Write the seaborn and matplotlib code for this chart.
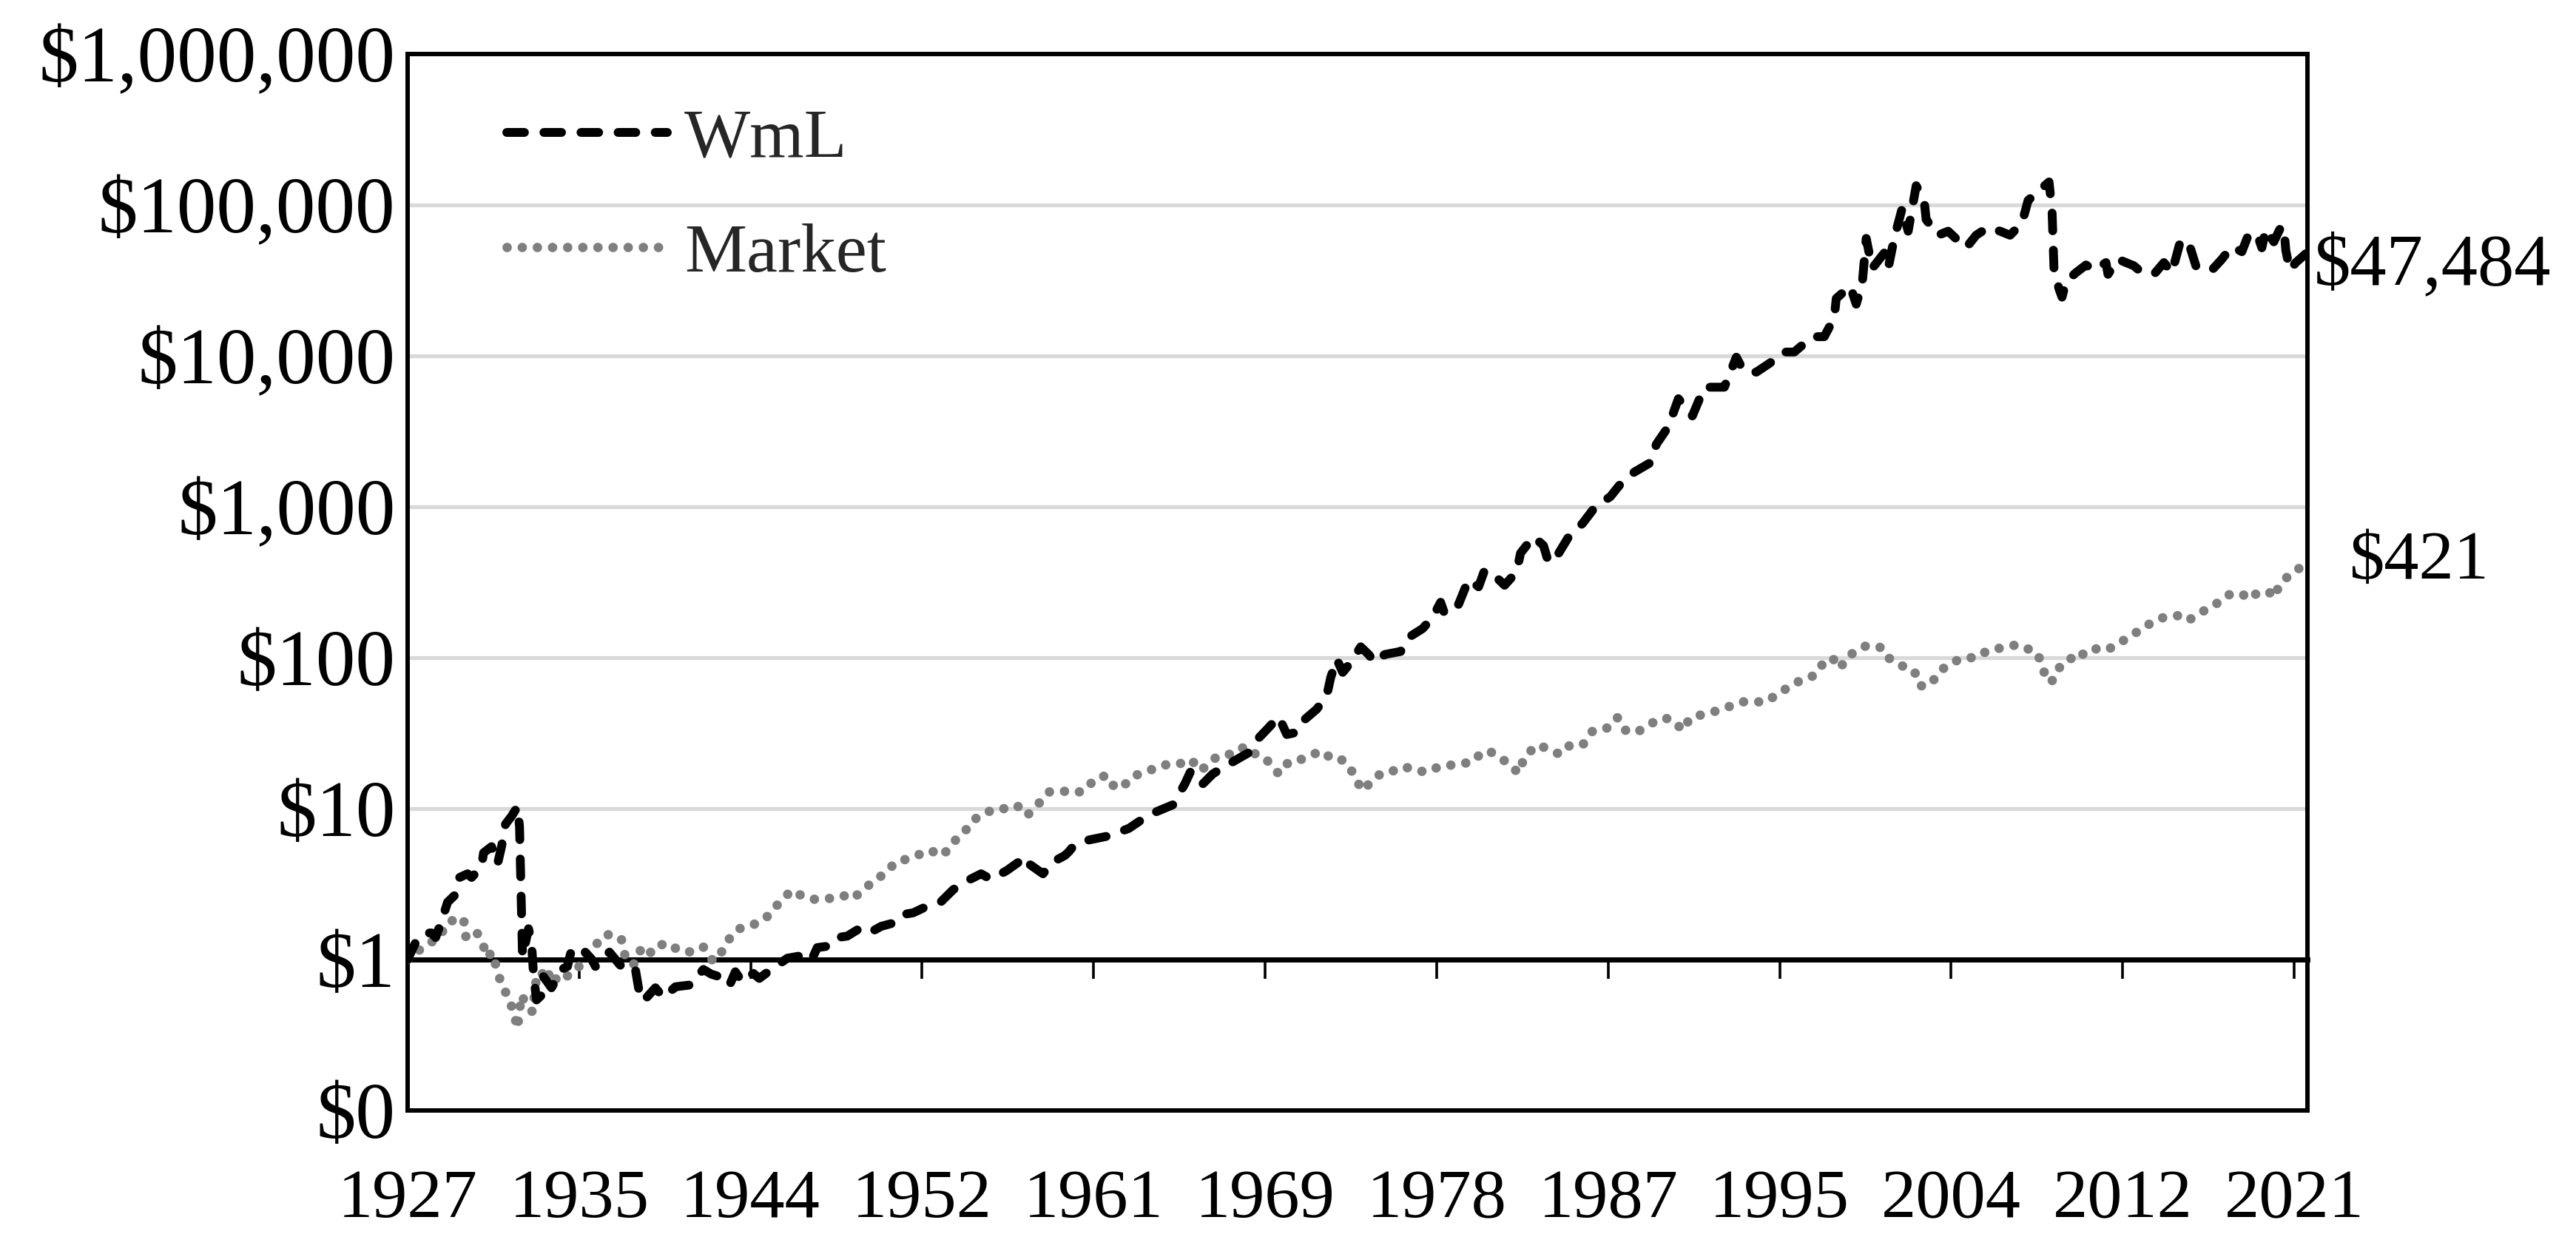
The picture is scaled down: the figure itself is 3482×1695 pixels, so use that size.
import matplotlib
matplotlib.use("Agg")
import matplotlib.pyplot as plt
import matplotlib.transforms as mtransforms
from matplotlib.ticker import FixedLocator, FixedFormatter, NullLocator
import pandas as pd
import seaborn as sns

# ---------------- data ----------------
wml_year = [1927.0, 1927.4, 1927.8, 1928.2, 1928.4, 1928.7, 1929.0, 1929.4, 1929.6, 1930.0,
            1930.2, 1930.7, 1930.8, 1931.2, 1931.5, 1931.7, 1931.9, 1932.2, 1932.5, 1932.6,
            1932.75, 1933.05, 1933.2, 1933.3, 1933.45, 1933.7, 1933.8, 1934.2, 1934.7, 1935.0,
            1935.2, 1935.7, 1936.2, 1936.4, 1936.8, 1937.1, 1937.6, 1938.0, 1938.4, 1938.6,
            1938.8, 1939.4, 1939.8, 1940.4, 1941.2, 1941.5, 1941.8, 1942.2, 1942.6, 1943.1,
            1943.4, 1943.75, 1944.3, 1944.6, 1945.2, 1946.0, 1946.7, 1947.2, 1947.5, 1948.1,
            1948.5, 1949.0, 1949.6, 1950.1, 1950.7, 1951.2, 1951.6, 1952.3, 1953.1, 1953.7,
            1954.3, 1954.75, 1955.7, 1956.2, 1957.0, 1957.96, 1958.1, 1958.8, 1959.25, 1959.9,
            1960.1, 1960.4, 1961.1, 1962.1, 1963.1, 1964.1, 1965.3, 1965.9, 1966.2, 1966.8,
            1967.3, 1967.9, 1968.4, 1969.1, 1969.5, 1970.0, 1970.6, 1971.0, 1971.5, 1971.9,
            1972.5, 1973.0, 1973.2, 1973.5, 1973.8, 1974.2, 1974.7, 1975.1, 1975.4, 1975.9,
            1976.7, 1977.05, 1977.8, 1978.3, 1978.7, 1978.9, 1979.6, 1980.1, 1980.6, 1980.9,
            1981.5, 1981.9, 1982.5, 1982.7, 1983.35, 1983.85, 1984.1, 1984.6, 1985.1, 1985.8,
            1986.4, 1987.2, 1987.8, 1988.4, 1989.2, 1989.5, 1990.1, 1990.6, 1991.3, 1991.9,
            1992.9, 1993.5, 1993.85, 1994.5, 1995.2, 1995.8, 1996.4, 1997.3, 1997.9, 1998.4,
            1998.5, 1999.2, 1999.5, 1999.8, 2000.0, 2000.3, 2000.9, 2001.1, 2001.4, 2001.8,
            2002.1, 2002.5, 2002.9, 2003.0, 2003.6, 2004.1, 2004.6, 2005.0, 2005.5, 2006.1,
            2006.7, 2007.2, 2007.8, 2008.1, 2008.6, 2009.15, 2009.3, 2009.4, 2009.65, 2009.8,
            2010.0, 2010.5, 2011.0, 2011.4, 2012.0, 2012.1, 2012.6, 2013.0, 2013.4, 2013.7,
            2014.4, 2014.9, 2015.3, 2015.7, 2016.0, 2016.2, 2016.5, 2016.95, 2017.3, 2017.8,
            2018.3, 2018.8, 2019.1, 2019.55, 2019.8, 2020.0, 2020.4, 2020.7, 2020.9, 2021.0,
            2021.2, 2021.5, 2021.8, 2022.0]
wml_value = [1.0, 1.3, 1.5, 1.5, 1.4, 1.8, 2.4, 2.7, 3.5, 3.7,
             3.5, 4.1, 5.1, 5.6, 4.3, 5.6, 7.9, 8.9, 10.3, 7.6,
             1.05, 1.6, 1.3, 0.8, 0.54, 0.58, 0.77, 0.65, 0.86, 0.9,
             1.16, 1.19, 1.01, 0.9, 1.03, 1.12, 0.93, 0.83, 0.86, 0.60,
             0.53, 0.65, 0.56, 0.66, 0.68, 0.77, 0.86, 0.80, 0.77, 0.67,
             0.83, 0.71, 0.81, 0.75, 0.86, 1.02, 1.06, 0.98, 1.2, 1.23,
             1.4, 1.43, 1.6, 1.5, 1.66, 1.73, 1.97, 2.04, 2.29, 2.42,
             2.9, 3.2, 3.7, 3.4, 3.9, 4.8, 4.3, 3.7, 4.4, 4.9,
             5.2, 5.8, 6.2, 6.6, 7.4, 9.1, 10.6, 14.6, 17.8, 14.6,
             17.0, 19.0, 20.8, 23.5, 28.5, 33.4, 40.7, 31.0, 32.0, 39.0,
             45.6, 56.0, 74.0, 98.0, 80.0, 93.0, 118.0, 105.0, 93.0, 105.0,
             110.0, 135.0, 156.0, 185.0, 233.0, 195.0, 226.0, 330.0, 295.0, 380.0,
             340.0, 302.0, 370.0, 493.0, 635.0, 553.0, 427.0, 490.0, 630.0, 775.0,
             985.0, 1170.0, 1470.0, 1700.0, 1960.0, 2600.0, 3400.0, 5200.0, 4000.0, 6200.0,
             6200.0, 9800.0, 8000.0, 7800.0, 9000.0, 10600.0, 10600.0, 13400.0, 13400.0, 17900.0,
             24000.0, 29000.0, 22000.0, 30000.0, 60000.0, 38000.0, 48000.0, 38000.0, 60000.0, 95000.0,
             67000.0, 134000.0, 107000.0, 80000.0, 63000.0, 67000.0, 58000.0, 52000.0, 63000.0, 71000.0,
             67000.0, 63000.0, 76000.0, 107000.0, 123000.0, 142000.0, 92000.0, 37000.0, 27800.0, 24500.0,
             31000.0, 35600.0, 40000.0, 37000.0, 41500.0, 34700.0, 43700.0, 41500.0, 39500.0, 36500.0,
             34700.0, 41500.0, 35600.0, 56000.0, 59000.0, 53000.0, 39500.0, 39500.0, 37000.0, 43700.0,
             53000.0, 49000.0, 62000.0, 65000.0, 52000.0, 69000.0, 57000.0, 69000.0, 72000.0, 50000.0,
             37000.0, 41500.0, 45000.0, 47484.0]

mkt_year = [1927.0, 1927.6, 1928.1, 1928.6, 1929.0, 1929.5, 1929.8, 1929.9, 1930.4, 1930.7,
            1931.0, 1931.2, 1931.5, 1931.7, 1932.0, 1932.3, 1932.5, 1932.6, 1932.7, 1932.95,
            1933.25, 1933.45, 1933.7, 1933.9, 1934.2, 1934.5, 1935.0, 1935.5, 1935.9, 1936.3,
            1936.8, 1937.3, 1937.7, 1937.9, 1938.3, 1938.5, 1938.9, 1939.2, 1939.5, 1939.9,
            1940.4, 1940.6, 1941.3, 1941.8, 1942.3, 1942.8, 1943.2, 1943.7, 1944.25, 1944.9,
            1945.3, 1945.85, 1946.2, 1946.7, 1947.2, 1947.8, 1948.3, 1948.8, 1949.2, 1949.7,
            1950.4, 1950.9, 1951.4, 1951.9, 1952.5, 1953.1, 1953.8, 1954.3, 1954.8, 1955.3,
            1955.9, 1956.4, 1956.9, 1957.5, 1958.0, 1958.5, 1959.1, 1959.75, 1960.4, 1960.9,
            1961.4, 1962.0, 1962.4, 1962.8, 1963.3, 1964.0, 1964.8, 1965.5, 1966.2, 1966.7,
            1967.3, 1967.8, 1968.3, 1968.9, 1969.45, 1969.9, 1970.3, 1970.6, 1971.1, 1971.6,
            1972.1, 1972.8, 1973.3, 1973.8, 1974.3, 1974.7, 1974.9, 1975.1, 1975.6, 1976.1,
            1976.6, 1977.3, 1977.85, 1978.35, 1978.8, 1979.3, 1979.8, 1980.3, 1980.6, 1981.1,
            1981.6, 1982.05, 1982.6, 1982.9, 1983.5, 1984.1, 1984.65, 1985.1, 1985.8, 1986.3,
            1986.75, 1987.1, 1987.55, 1987.85, 1988.1, 1988.7, 1989.3, 1989.9, 1990.4, 1990.8,
            1991.2, 1991.8, 1992.4, 1993.05, 1993.8, 1994.5, 1995.0, 1995.6, 1996.4, 1996.9,
            1997.4, 1997.8, 1998.3, 1998.7, 1999.0, 1999.5, 2000.0, 2000.4, 2000.8, 2001.1,
            2001.6, 2001.9, 2002.4, 2002.7, 2003.2, 2003.7, 2004.3, 2004.9, 2005.5, 2006.1,
            2006.9, 2007.56, 2008.12, 2008.58, 2008.83, 2009.1, 2009.36, 2009.73, 2010.22, 2010.6,
            2011.0, 2011.64, 2011.95, 2012.5, 2013.15, 2013.74, 2014.34, 2014.98, 2015.63, 2016.1,
            2016.77, 2017.45, 2018.13, 2018.81, 2019.12, 2019.59, 2020.17, 2020.35, 2020.75, 2021.16,
            2021.78, 2022.0]
mkt_value = [1.0, 1.16, 1.28, 1.42, 1.76, 1.87, 1.87, 1.42, 1.56, 1.33,
             1.03, 1.12, 0.85, 0.67, 0.58, 0.45, 0.35, 0.46, 0.58, 0.5,
             0.45, 0.77, 0.83, 0.72, 0.85, 0.71, 0.78, 0.86, 1.1, 1.19,
             1.45, 1.47, 1.36, 1.03, 0.92, 1.1, 1.23, 1.1, 1.21, 1.29,
             1.19, 1.14, 1.12, 1.21, 0.97, 1.16, 1.45, 1.63, 1.69, 1.86,
             2.16, 2.56, 2.87, 2.66, 2.51, 2.51, 2.56, 2.66, 2.51, 2.8,
             3.4, 3.7, 4.4, 4.6, 4.9, 5.3, 4.9, 6.0, 6.8, 8.4,
             9.3, 10.0, 10.0, 10.5, 9.0, 10.5, 12.9, 13.1, 12.7, 13.2,
             15.8, 16.6, 13.7, 14.0, 16.4, 17.6, 19.5, 19.5, 21.2, 17.8,
             21.2, 22.9, 22.9, 25.8, 22.9, 21.8, 18.8, 17.0, 20.4, 20.8,
             22.5, 24.0, 21.0, 21.0, 17.4, 13.7, 13.2, 14.6, 16.7, 17.0,
             18.8, 18.6, 17.5, 18.6, 18.6, 19.6, 19.9, 20.4, 22.4, 24.3,
             21.9, 20.2, 17.2, 22.0, 26.3, 25.0, 22.9, 26.0, 26.3, 32.6,
             33.9, 34.3, 40.0, 33.9, 32.0, 33.0, 37.0, 40.0, 38.0, 33.0,
             40.0, 42.0, 44.0, 47.0, 51.0, 51.0, 51.0, 58.0, 67.0, 73.0,
             76.0, 90.0, 100.0, 85.0, 100.0, 111.0, 120.0, 120.0, 116.0, 100.0,
             91.0, 87.0, 82.0, 65.0, 66.0, 82.0, 93.0, 100.0, 100.0, 112.0,
             117.0, 122.0, 114.0, 107.0, 85.0, 69.0, 71.0, 89.0, 99.0, 96.0,
             112.0, 115.0, 112.0, 120.0, 138.0, 153.0, 173.0, 187.0, 190.0, 176.0,
             200.0, 224.0, 261.0, 266.0, 244.0, 269.0, 273.0, 250.0, 309.0, 352.0,
             400.0, 421.0]

series_names = ["WmL", "Market"]
end_labels = ["$47,484", "$421"]
x_tick_labels = ["1927", "1935", "1944", "1952", "1961", "1969",
                 "1978", "1987", "1995", "2004", "2012", "2021"]
y_tick_values = [0.1, 1, 10, 100, 1000, 10000, 100000, 1000000]
y_tick_labels = ["$0", "$1", "$10", "$100", "$1,000", "$10,000", "$100,000", "$1,000,000"]

# ---------------- style ----------------
sns.set_theme(style="white")
plt.rcParams["font.family"] = ["Liberation Serif", "DejaVu Serif"]
FS = 68
FS_Y = 77

W, H = 3482, 1695
fig = plt.figure(figsize=(W / 100, H / 100), dpi=100)
fig.patch.set_facecolor("white")
left, right, top, bottom = 551, 3119, 73, 1501
ax = fig.add_axes([left / W, 1 - bottom / H, (right - left) / W, (bottom - top) / H])
ax.set_facecolor("white")

df_w = pd.DataFrame({"Year": wml_year, "Value": wml_value})
df_m = pd.DataFrame({"Year": mkt_year, "Value": mkt_value})

sns.lineplot(data=df_m, x="Year", y="Value", ax=ax, color="#7F7F7F",
             linewidth=9.2, estimator=None, sort=False, legend=False)
l_mkt = ax.lines[-1]
l_mkt.set_linestyle((0, (0.001, 1.6)))
l_mkt.set_dash_capstyle("round")
l_mkt.set_zorder(3)

sns.lineplot(data=df_w, x="Year", y="Value", ax=ax, color="black",
             linewidth=8.6, estimator=None, sort=False, legend=False)
l_wml = ax.lines[-1]
l_wml.set_linestyle((0, (2.0, 2.2)))
l_wml.set_dash_capstyle("round")
l_wml.set_solid_capstyle("round")
l_wml.set_zorder(4)

ax.set_yscale("log")
ax.set_ylim(y_tick_values[0], y_tick_values[-1])
n_months = 1141
ax.set_xlim(1927, 1927 + n_months / 12)

ax.yaxis.set_major_locator(FixedLocator(y_tick_values))
ax.yaxis.set_major_formatter(FixedFormatter(y_tick_labels))
ax.yaxis.set_minor_locator(NullLocator())
ax.tick_params(axis="y", which="both", length=0, pad=12, labelsize=FS_Y, colors="black")

tick_pos = [1927 + 103 * k / 12 for k in range(len(x_tick_labels))]
ax.set_xticks(tick_pos)
ax.set_xticklabels(x_tick_labels)
ax.xaxis.set_minor_locator(NullLocator())
ax.tick_params(axis="x", which="both", length=0, pad=57, labelsize=FS, colors="black")

ax.set_xlabel("")
ax.set_ylabel("")

# gridlines
ax.grid(False)
ax.grid(axis="y", which="major", color="#D9D9D9", linewidth=3.8)
ax.set_axisbelow(True)

for s in ax.spines.values():
    s.set_visible(True)
    s.set_color("black")
    s.set_linewidth(4.3)

# horizontal category axis crossing at $1
sec = ax.secondary_xaxis(1 / 7)
sec.set_xticks(tick_pos)
sec.tick_params(axis="x", direction="out", length=19, width=2.6, color="black",
                labelbottom=False, labeltop=False, bottom=True, top=False)
for s in sec.spines.values():
    s.set_color("black")
sec.spines["bottom"].set_linewidth(5.0)
sec.set_zorder(1)

# legend
leg = ax.legend(handles=[l_wml, l_mkt], labels=series_names, loc="upper left",
                bbox_to_anchor=(0.052, 0.949), frameon=False, fontsize=FS,
                handlelength=2.3, handletextpad=0.25, labelspacing=0.73,
                borderaxespad=0, borderpad=0)

# end labels
trans = mtransforms.blended_transform_factory(ax.transAxes, ax.transData)
ax.annotate(end_labels[0], xy=(1.0, wml_value[-1]), xycoords=trans,
            xytext=(6, -5), textcoords="offset points", ha="left",
            va="center_baseline", fontsize=71, color="black", annotation_clip=False)
ax.annotate(end_labels[1], xy=(1.0, mkt_value[-1]), xycoords=trans,
            xytext=(41, 9), textcoords="offset points", ha="left",
            va="center_baseline", fontsize=FS, color="black", annotation_clip=False)

fig.savefig("out.png", dpi=100, facecolor="white")
